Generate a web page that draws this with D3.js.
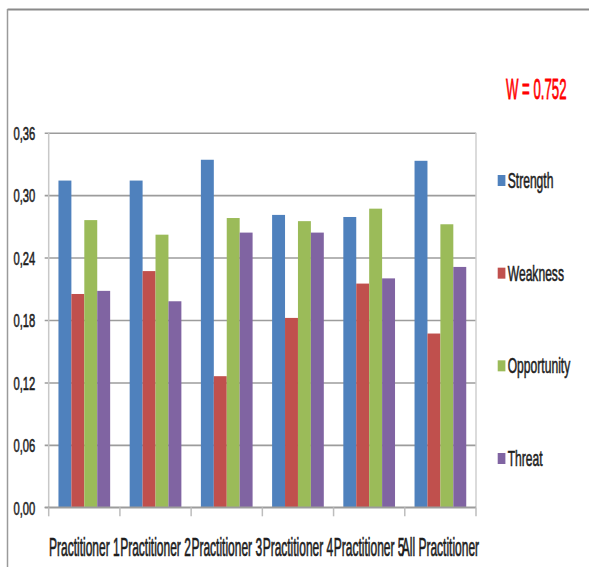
<!DOCTYPE html>
<html>
<head>
<meta charset="utf-8">
<script src="https://cdn.jsdelivr.net/npm/d3@7/dist/d3.min.js"></script>
<style>
  html, body { margin: 0; padding: 0; background: #fff; }
  svg text { font-family: "Liberation Sans", Arial, sans-serif; }
</style>
</head>
<body>
<svg id="chart" width="589" height="567"></svg>
<script>
const categories = ["Practitioner 1", "Practitioner 2", "Practitioner 3", "Practitioner 4", "Practitioner 5", "All Practitioner"];
const seriesNames = ["Strength", "Weakness", "Opportunity", "Threat"];
const strength    = [0.314, 0.314, 0.334, 0.281, 0.279, 0.333];
const weakness    = [0.205, 0.227, 0.126, 0.182, 0.215, 0.167];
const opportunity = [0.276, 0.262, 0.278, 0.275, 0.287, 0.272];
const threat      = [0.208, 0.198, 0.264, 0.264, 0.220, 0.231];
const yTicks = [0, 0.06, 0.12, 0.18, 0.24, 0.30, 0.36];
const annotation = "W = 0.752";

const seriesValues = [strength, weakness, opportunity, threat];
const colors = ["#4f81bd", "#c0504d", "#9bbb59", "#8064a2"];

const svg = d3.select("#chart");

// frame
svg.append("line").attr("x1", 7.5).attr("x2", 589).attr("y1", 9.5).attr("y2", 9.5)
  .attr("stroke", "#8a8a8a").attr("stroke-width", 2.2);
svg.append("line").attr("x1", 7.5).attr("x2", 7.5).attr("y1", 9).attr("y2", 567)
  .attr("stroke", "#9a9a9a").attr("stroke-width", 1.5);

const plot = { left: 48.7, right: 476, top: 132.7, bottom: 507.3 };

const x = d3.scaleBand().domain(categories).range([plot.left, plot.right])
  .paddingInner(0.274).paddingOuter(0.137);
const xs = d3.scaleBand().domain(seriesNames).range([0, x.bandwidth()]);
const y = d3.scaleLinear().domain([0, 0.36]).range([plot.bottom, plot.top]);

const fmt = d3.formatLocale({ decimal: ",", thousands: ".", grouping: [3], currency: ["", ""] }).format(".2f");

// gridlines + y labels
const yAxis = svg.append("g").attr("transform", `translate(${plot.left},0)`)
  .call(d3.axisLeft(y).tickValues(yTicks).tickFormat(fmt).tickSizeInner(-(plot.right - plot.left)).tickPadding(0));
yAxis.select(".domain").remove();
yAxis.selectAll(".tick line")
  .attr("x1", -4)
  .attr("stroke", "#9c9c9c").attr("stroke-width", 1.6);
yAxis.selectAll(".tick text")
  .attr("x", null).attr("dy", "0.36em")
  .attr("text-anchor", "end")
  .attr("font-size", 19).attr("fill", "#1e1e1e")
  .attr("stroke", "#1e1e1e").attr("stroke-width", 0.6)
  .attr("transform", "translate(-13.5,0) scale(0.59,1)");

// y axis line and right border
svg.append("line").attr("x1", plot.left).attr("x2", plot.left).attr("y1", plot.top).attr("y2", plot.bottom)
  .attr("stroke", "#c8c8c8").attr("stroke-width", 1.5);
svg.append("line").attr("x1", plot.right).attr("x2", plot.right).attr("y1", plot.top).attr("y2", plot.bottom)
  .attr("stroke", "#cfcfcf").attr("stroke-width", 1.5);

// bars
const groups = svg.append("g").selectAll("g").data(categories).join("g")
  .attr("transform", d => `translate(${x(d)},0)`);
groups.selectAll("rect")
  .data((c, ci) => seriesNames.map((s, si) => ({ s, si, v: seriesValues[si][ci] })))
  .join("rect")
  .attr("x", d => xs(d.s))
  .attr("width", xs.bandwidth())
  .attr("y", d => y(d.v))
  .attr("height", d => y(0) - y(d.v))
  .attr("fill", d => colors[d.si]);

// x axis
const xAxis = svg.append("g").attr("transform", `translate(0,${plot.bottom})`)
  .call(d3.axisBottom(x).tickSize(0));
xAxis.select(".domain").remove();
xAxis.selectAll(".tick text")
  .attr("y", null).attr("dy", null)
  .attr("text-anchor", "middle")
  .attr("font-size", 25).attr("fill", "#1e1e1e")
  .attr("stroke", "#1e1e1e").attr("stroke-width", 0.7)
  .attr("transform", "translate(0,49) scale(0.48,1)");
svg.append("line").attr("x1", plot.left - 4).attr("x2", plot.right).attr("y1", plot.bottom).attr("y2", plot.bottom)
  .attr("stroke", "#9c9c9c").attr("stroke-width", 1.6);
const boundaries = d3.range(categories.length + 1).map(i => plot.left + i * x.step());
svg.append("g").selectAll("line").data(boundaries).join("line")
  .attr("x1", d => d).attr("x2", d => d)
  .attr("y1", plot.bottom).attr("y2", plot.bottom + 9)
  .attr("stroke", "#bdbdbd").attr("stroke-width", 1.5);

// legend
const legendY = d3.scalePoint().domain(seriesNames).range([188, 466]);
const legend = svg.append("g").selectAll("g").data(seriesNames).join("g")
  .attr("transform", d => `translate(497.7,${legendY(d)})`);
legend.append("rect").attr("x", 0).attr("y", -13).attr("width", 7.7).attr("height", 11)
  .attr("fill", (d, i) => colors[i]);
legend.append("text").text(d => d)
  .attr("font-size", 22).attr("fill", "#1e1e1e")
  .attr("stroke", "#1e1e1e").attr("stroke-width", 0.6)
  .attr("transform", "translate(10,0) scale(0.55,1)");

// annotation
svg.append("text").text(annotation)
  .attr("font-size", 30).attr("fill", "#ff0000")
  .attr("stroke", "#ff0000").attr("stroke-width", 0.8)
  .attr("transform", "translate(506,99) scale(0.44,1)");
</script>
</body>
</html>
